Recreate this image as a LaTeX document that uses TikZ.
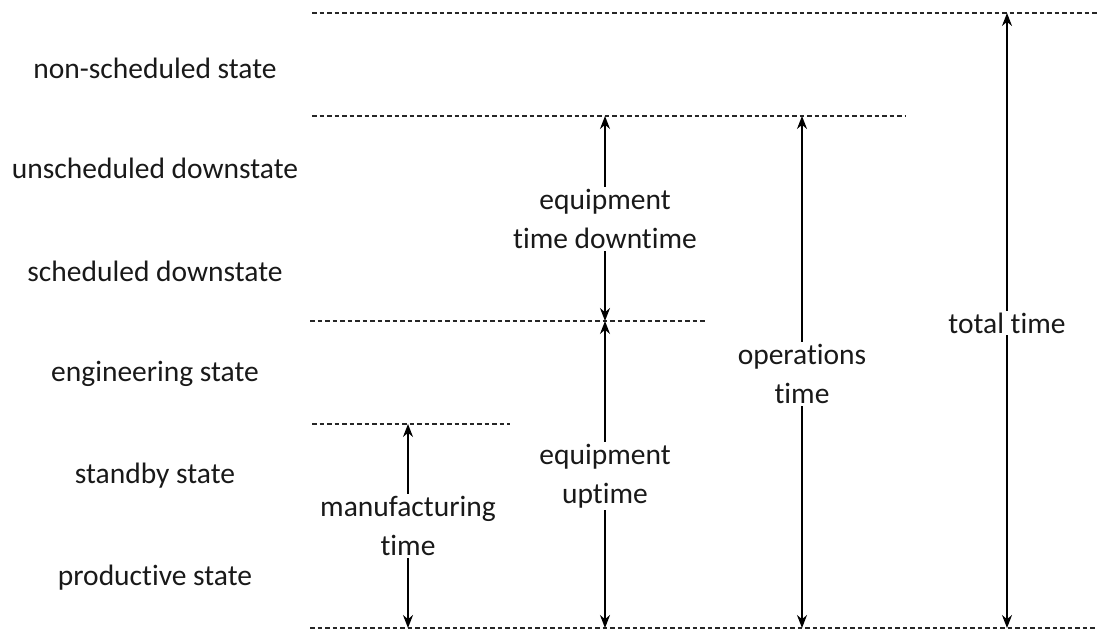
\documentclass[tikz,border=0pt]{standalone}
\usepackage{fontspec}
\setmainfont{Carlito}[Ligatures=NoCommon]
\usetikzlibrary{arrows.meta}
\begin{document}
\begin{tikzpicture}[x=1pt,y=-1pt,
  lbl/.style={font=\fontsize{29.5}{39}\selectfont, text=black!90, align=center, inner sep=1pt},
  mid/.style={lbl, fill=white, inner sep=2pt},
  sep/.style={line width=2pt, dash pattern=on 4.5pt off 3pt, black!85},
  dim/.style={line width=1.5pt, {Stealth[length=13pt,width=10pt]}-{Stealth[length=13pt,width=10pt]}}]
\useasboundingbox (0,0) rectangle (1100,630);
% separator lines
\coordinate (l1a) at (312,13);  \coordinate (l1b) at (1097,13);
\coordinate (l2a) at (312,116); \coordinate (l2b) at (905,116);
\coordinate (l3a) at (310,321); \coordinate (l3b) at (707,321);
\coordinate (l4a) at (312,424); \coordinate (l4b) at (510,424);
\coordinate (l5a) at (310,628); \coordinate (l5b) at (1097,628);
\draw[sep] (l1a) -- (l1b);
\draw[sep] (l2a) -- (l2b);
\draw[sep] (l3a) -- (l3b);
\draw[sep] (l4a) -- (l4b);
\draw[sep] (l5a) -- (l5b);
% state labels
\node[lbl] (s1) at (155,68) {non-scheduled state};
\node[lbl] (s2) at (155,168) {unscheduled downstate};
\node[lbl] (s3) at (155,271) {scheduled downstate};
\node[lbl] (s4) at (155,374) {engineering state};
\node[lbl] (s5) at (155,476) {standby state};
\node[lbl] (s6) at (155,578) {productive state};
% arrow end points
\coordinate (m1) at (408,424); \coordinate (m2) at (408,628);
\coordinate (u1) at (605,321); \coordinate (u2) at (605,628);
\coordinate (d1) at (605,116); \coordinate (d2) at (605,321);
\coordinate (o1) at (802,116); \coordinate (o2) at (802,628);
\coordinate (t1) at (1007,13); \coordinate (t2) at (1007,628);
\draw[dim] (m1) -- (m2);
\draw[dim] (u1) -- (u2);
\draw[dim] (d1) -- (d2);
\draw[dim] (o1) -- (o2);
\draw[dim] (t1) -- (t2);
% measure labels
\node[mid] (mt) at (408,526) {manufacturing\\time};
\node[mid] (ut) at (605,476) {equipment\\uptime};
\node[mid] (dt) at (605,219) {equipment\\time downtime};
\node[mid] (ot) at (802,374) {operations\\time};
\node[mid] (tt) at (1007,323) {total time};
\end{tikzpicture}
\end{document}
